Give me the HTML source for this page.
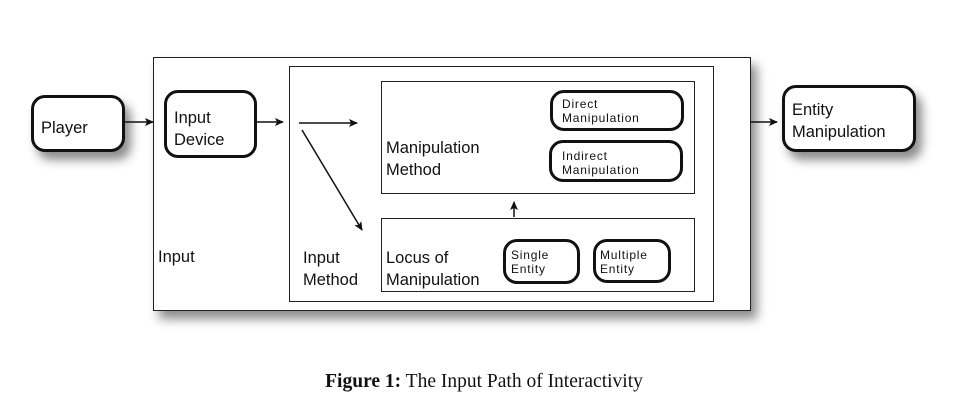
<!DOCTYPE html>
<html><head><meta charset="utf-8"><style>
body{margin:0;width:956px;height:419px;background:#fff;position:relative;overflow:hidden;font-family:"Liberation Sans",sans-serif;color:#111}
.b{position:absolute;box-sizing:border-box;background:#fff}
.sq{border:1.5px solid #222}
.rd{border:3px solid #111;border-radius:14px}
.sh{box-shadow:6px 8px 10px rgba(0,0,0,0.45)}
.t{position:absolute;font-size:16.5px;line-height:22px;white-space:nowrap}
.s{position:absolute;font-size:12px;line-height:14px;letter-spacing:0.8px;white-space:nowrap;font-weight:500}
</style></head><body>
<div class="b sq sh" style="left:153px;top:57px;width:598px;height:254px"></div>
<div class="b sq" style="left:289px;top:66px;width:425px;height:236px"></div>
<div class="b sq" style="left:381px;top:81px;width:314px;height:113px"></div>
<div class="b sq" style="left:381px;top:218px;width:314px;height:74px"></div>
<div class="b rd sh" style="left:31px;top:95px;width:94px;height:57px"></div>
<div class="b rd" style="left:164px;top:90px;width:93px;height:68px"></div>
<div class="b rd sh" style="left:782px;top:85px;width:134px;height:67px"></div>
<div class="b rd" style="left:550px;top:90px;width:134px;height:41px"></div>
<div class="b rd" style="left:549px;top:140px;width:134px;height:42px"></div>
<div class="b rd" style="left:503px;top:239px;width:77px;height:45px"></div>
<div class="b rd" style="left:593px;top:239px;width:78px;height:44px"></div>

<div class="t" style="left:41px;top:117px">Player</div>
<div class="t" style="left:174px;top:107px">Input<br>Device</div>
<div class="t" style="left:792px;top:99px">Entity<br>Manipulation</div>
<div class="t" style="left:158px;top:246px">Input</div>
<div class="t" style="left:303px;top:247px">Input<br>Method</div>
<div class="t" style="left:386px;top:137px">Manipulation<br>Method</div>
<div class="t" style="left:386px;top:247px">Locus of<br>Manipulation</div>
<div class="s" style="left:562px;top:97px">Direct<br>Manipulation</div>
<div class="s" style="left:562px;top:149px">Indirect<br>Manipulation</div>
<div class="s" style="left:511px;top:248px">Single<br>Entity</div>
<div class="s" style="left:600px;top:248px">Multiple<br>Entity</div>

<svg style="position:absolute;left:0;top:0" width="956" height="419">
<defs><marker id="a" markerWidth="10" markerHeight="10" refX="8" refY="4" orient="auto" markerUnits="userSpaceOnUse"><path d="M0,0 L9,4 L0,8 L2,4 Z" fill="#111"/></marker></defs>
<g stroke="#111" stroke-width="1.5" fill="none" marker-end="url(#a)">
<line x1="125" y1="122" x2="153" y2="122"/>
<line x1="257" y1="122" x2="283" y2="122"/>
<line x1="299" y1="123" x2="357" y2="123"/>
<line x1="302" y1="130" x2="362" y2="230"/>
<line x1="514" y1="217" x2="514" y2="202"/>
<line x1="751" y1="122" x2="777" y2="122"/>
</g></svg>
<div style="position:absolute;left:0;width:968px;top:370px;text-align:center;font-family:'Liberation Serif',serif;font-size:19.5px;line-height:24px"><b>Figure 1:</b> The Input Path of Interactivity</div>
</body></html>
